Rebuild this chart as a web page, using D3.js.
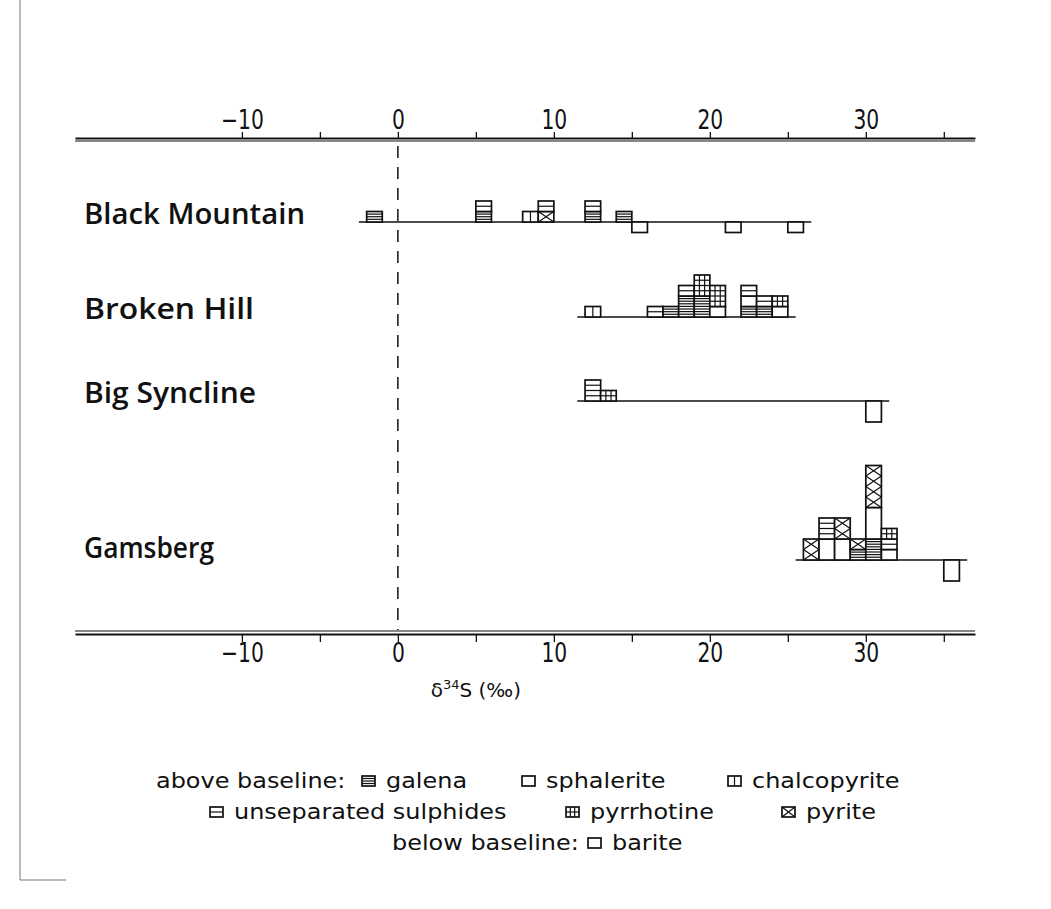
<!DOCTYPE html>
<html>
<head>
<meta charset="utf-8">
<script src="https://cdn.jsdelivr.net/npm/d3@7"></script>
<style>
  body { margin: 0; background: #fff; }
  text { fill: #111; }
</style>
</head>
<body>
<svg id="chart"></svg>
<script>
const width = 1051;
const height = 909;

// localities, top to bottom
const localities = ['Black Mountain', 'Broken Hill', 'Big Syncline', 'Gamsberg'];
// range of the baseline drawn for each locality (per mil)
const baselineExtents = [[-2.5, 26.5], [11.5, 25.5], [11.5, 31.5], [25.5, 36.5]];

// above baseline: [bin start (per mil), mineral, number of analyses], stacked bottom up
const blackMountain = [
  [-2, 'galena', 1],
  [5, 'galena', 1], [5, 'unseparated', 1],
  [8, 'chalcopyrite', 1],
  [9, 'pyrite', 1], [9, 'unseparated', 1],
  [12, 'galena', 1], [12, 'unseparated', 1],
  [14, 'galena', 1]
];
const brokenHill = [
  [12, 'chalcopyrite', 1],
  [16, 'unseparated', 1],
  [17, 'galena', 1],
  [18, 'galena', 2], [18, 'unseparated', 1],
  [19, 'galena', 2], [19, 'pyrrhotine', 2],
  [20, 'sphalerite', 1], [20, 'pyrrhotine', 2],
  [22, 'galena', 1], [22, 'sphalerite', 1], [22, 'unseparated', 1],
  [23, 'galena', 1], [23, 'unseparated', 1],
  [24, 'sphalerite', 1], [24, 'pyrrhotine', 1]
];
const bigSyncline = [
  [12, 'unseparated', 2],
  [13, 'pyrrhotine', 1]
];
const gamsberg = [
  [26, 'pyrite', 2],
  [27, 'sphalerite', 2], [27, 'unseparated', 2],
  [28, 'sphalerite', 2], [28, 'pyrite', 2],
  [29, 'galena', 1], [29, 'pyrite', 1],
  [30, 'galena', 2], [30, 'sphalerite', 3], [30, 'pyrite', 4],
  [31, 'sphalerite', 1], [31, 'unseparated', 1], [31, 'pyrrhotine', 1]
];
// below baseline: barite [bin start, number of analyses]
const bariteBlackMountain = [[15, 1], [21, 1], [25, 1]];
const bariteBrokenHill = [];
const bariteBigSyncline = [[30, 2]];
const bariteGamsberg = [[35, 2]];

const aboveData = [blackMountain, brokenHill, bigSyncline, gamsberg];
const bariteData = [bariteBlackMountain, bariteBrokenHill, bariteBigSyncline, bariteGamsberg];

// legend
const legendRow1 = [['galena', 'galena'], ['sphalerite', 'sphalerite'], ['chalcopyrite', 'chalcopyrite']];
const legendRow2 = [['unseparated', 'unseparated sulphides'], ['pyrrhotine', 'pyrrhotine'], ['pyrite', 'pyrite']];
const legendRow3 = [['barite', 'barite']];

const xTicks = [-10, -5, 0, 5, 10, 15, 20, 25, 30, 35];

const svg = d3.select('#chart')
    .attr('width', width)
    .attr('height', height)
    .style('font-family', '"DejaVu Sans", sans-serif');

// page frame fragments from the scan
svg.append('line')
    .attr('x1', 20).attr('x2', 20).attr('y1', 0).attr('y2', 880)
    .attr('stroke', '#777').attr('stroke-width', 1);
svg.append('line')
    .attr('x1', 20).attr('x2', 66).attr('y1', 880).attr('y2', 880)
    .attr('stroke', '#777').attr('stroke-width', 1);

const x = d3.scaleLinear()
    .domain([-20.7, 37])
    .range([75, 975]);
const rowY = d3.scaleOrdinal()
    .domain(localities)
    .range([222, 317, 401, 560]);
const count = d3.scaleLinear()
    .domain([0, 1])
    .range([0, 10.5]);

const fmt = d3.format('d');
const topY = 138;
const bottomY = 634;

const topAxis = d3.axisTop(x)
    .tickValues(xTicks)
    .tickFormat(d => d % 10 === 0 ? fmt(d) : '')
    .tickSize(6)
    .tickSizeOuter(0)
    .tickPadding(3);
const bottomAxis = d3.axisBottom(x)
    .tickValues(xTicks)
    .tickFormat(d => d % 10 === 0 ? fmt(d) : '')
    .tickSize(8)
    .tickSizeOuter(0)
    .tickPadding(2);

function styleAxis(g, dy) {
  g.select('.domain').attr('stroke', '#111').attr('stroke-width', 2.2);
  g.selectAll('.tick line').attr('stroke', '#111').attr('stroke-width', 1.3);
  g.selectAll('.tick text')
      .attr('fill', '#111')
      .attr('transform', 'scale(0.78,1)')
      .style('font-family', '"DejaVu Sans", sans-serif')
      .style('font-size', '26px');
  // second, thinner rule parallel to the axis
  g.append('line')
      .attr('x1', x.range()[0]).attr('x2', x.range()[1])
      .attr('y1', dy).attr('y2', dy)
      .attr('stroke', '#111').attr('stroke-width', 1.1);
}

svg.append('g')
    .attr('transform', 'translate(0,' + topY + ')')
    .call(topAxis)
    .call(g => styleAxis(g, 3));

svg.append('g')
    .attr('transform', 'translate(0,' + bottomY + ')')
    .call(bottomAxis)
    .call(g => styleAxis(g, -3));

// zero line
svg.append('line')
    .attr('x1', x(0)).attr('x2', x(0))
    .attr('y1', topY + 8).attr('y2', bottomY - 4)
    .attr('stroke', '#111')
    .attr('stroke-width', 1.5)
    .attr('stroke-dasharray', '12,9');

// axis title
const title = svg.append('text')
    .attr('x', x(5))
    .attr('y', 697)
    .attr('text-anchor', 'middle')
    .style('font-size', '20px');
title.append('tspan').text('δ');
title.append('tspan').attr('dy', -8).style('font-size', '13px').text('34');
title.append('tspan').attr('dy', 8).text('S (‰)');

// one block of stacked analyses with the mineral's fill symbol
function drawBlock(g, x0, x1, yTop, yBot, mineral, n) {
  const w = x1 - x0;
  const h = yBot - yTop;
  const u = h / n;
  const block = g.append('g');
  block.append('rect')
      .attr('x', x0).attr('y', yTop)
      .attr('width', w).attr('height', h)
      .attr('fill', '#fff')
      .attr('stroke', '#111')
      .attr('stroke-width', 1.7);
  const line = (a, b, c, d, sw) => block.append('line')
      .attr('x1', a).attr('y1', b).attr('x2', c).attr('y2', d)
      .attr('stroke', '#111').attr('stroke-width', sw || 1.2);
  if (mineral === 'galena') {
    const step = Math.min(2.6, h / 4);
    for (let yy = yTop + step; yy < yBot - 0.8; yy += step) line(x0, yy, x1, yy, 1.2);
  } else if (mineral === 'unseparated') {
    for (let k = 1; k < 2 * n; k++) line(x0, yTop + k * u / 2, x1, yTop + k * u / 2);
  } else if (mineral === 'chalcopyrite') {
    line(x0 + w / 2, yTop, x0 + w / 2, yBot);
  } else if (mineral === 'pyrrhotine') {
    line(x0 + w / 3, yTop, x0 + w / 3, yBot);
    line(x0 + 2 * w / 3, yTop, x0 + 2 * w / 3, yBot);
    for (let k = 1; k < 2 * n; k++) line(x0, yTop + k * u / 2, x1, yTop + k * u / 2);
  } else if (mineral === 'pyrite') {
    for (let i = 0; i < n; i++) {
      line(x0, yTop + i * u, x1, yTop + (i + 1) * u);
      line(x1, yTop + i * u, x0, yTop + (i + 1) * u);
    }
  }
}

const labelWidth = d3.scaleOrdinal()
    .domain(localities)
    .range([221, 170, 172, 130]);

localities.forEach((name, i) => {
  const base = rowY(name);
  const g = svg.append('g');

  g.append('text')
      .attr('x', 84)
      .attr('y', name === 'Gamsberg' ? 558 : base + 2)
      .attr('textLength', labelWidth(name))
      .attr('lengthAdjust', 'spacingAndGlyphs')
      .style('font-family', '"Open Sans", "DejaVu Sans", sans-serif')
      .style('font-size', '28px')
      .style('font-weight', 600)
      .text(name);

  g.append('line')
      .attr('x1', x(baselineExtents[i][0])).attr('x2', x(baselineExtents[i][1]))
      .attr('y1', base).attr('y2', base)
      .attr('stroke', '#111').attr('stroke-width', 1.6);

  // stack the analyses of each bin
  const level = new Map();
  aboveData[i].forEach(([bin, mineral, n]) => {
    const y0 = level.get(bin) || 0;
    level.set(bin, y0 + n);
    drawBlock(g, x(bin), x(bin + 1), base - count(y0 + n), base - count(y0), mineral, n);
  });

  bariteData[i].forEach(([bin, n]) => {
    drawBlock(g, x(bin), x(bin + 1), base, base + count(n), 'barite', n);
  });
});

// legend: text is the natural width stretched a little wider, like the plotter lettering
const legend = svg.append('g').style('font-size', '21px');
function legendText(xPos, yPos, str) {
  const t = legend.append('text')
      .attr('x', xPos).attr('y', yPos)
      .text(str);
  const w = t.node().getComputedTextLength();
  t.attr('textLength', w * 1.14).attr('lengthAdjust', 'spacingAndGlyphs');
}
function legendSymbol(xPos, yPos, mineral) {
  drawBlock(legend, xPos, xPos + 13, yPos - 12, yPos - 2, mineral, 1);
}

const row1X = [[362, 386], [522, 546], [728, 752]];
const row2X = [[210, 234], [566, 590], [782, 806]];
const row3X = [[588, 612]];

legendText(156, 788, 'above baseline:');
legendRow1.forEach(([m, label], k) => {
  legendSymbol(row1X[k][0], 788, m);
  legendText(row1X[k][1], 788, label);
});
legendRow2.forEach(([m, label], k) => {
  legendSymbol(row2X[k][0], 819, m);
  legendText(row2X[k][1], 819, label);
});
legendText(392, 850, 'below baseline:');
legendRow3.forEach(([m, label], k) => {
  legendSymbol(row3X[k][0], 850, m);
  legendText(row3X[k][1], 850, label);
});
</script>
</body>
</html>
